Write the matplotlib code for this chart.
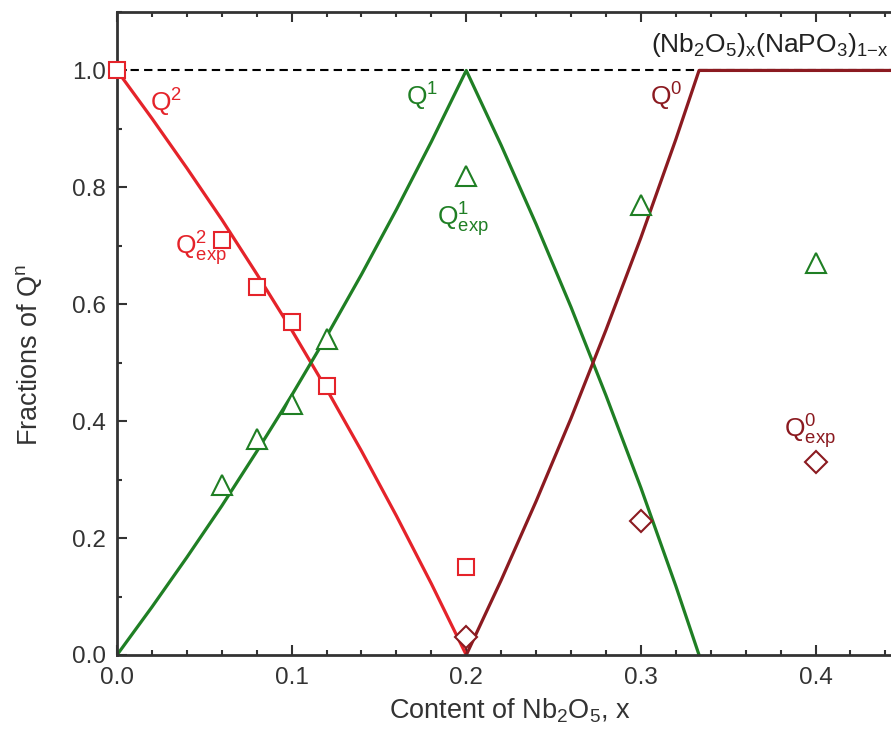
import matplotlib.pyplot as plt
from matplotlib.ticker import MultipleLocator

plt.rcParams['font.family'] = ['Liberation Sans', 'DejaVu Sans']
plt.rcParams['mathtext.fontset'] = 'custom'
plt.rcParams['mathtext.rm'] = 'Liberation Sans'
plt.rcParams['mathtext.it'] = 'Liberation Sans'

# model curves
q2_x = [0.0, 0.02, 0.04, 0.06, 0.08, 0.10, 0.12, 0.14, 0.16, 0.18, 0.20]
q2_y = [1.0, 0.918, 0.833, 0.745, 0.652, 0.556, 0.455, 0.349, 0.238, 0.122, 0.0]
q1_x = [0.0, 0.02, 0.04, 0.06, 0.08, 0.10, 0.12, 0.14, 0.16, 0.18, 0.20,
        0.22, 0.24, 0.26, 0.28, 0.30, 0.32, 0.3333]
q1_y = [0.0, 0.082, 0.167, 0.255, 0.348, 0.444, 0.545, 0.651, 0.762, 0.878, 1.0,
        0.872, 0.737, 0.595, 0.444, 0.286, 0.118, 0.0]
q0_x = [0.20, 0.22, 0.24, 0.26, 0.28, 0.30, 0.32, 0.3333, 0.45]
q0_y = [0.0, 0.128, 0.263, 0.405, 0.556, 0.714, 0.882, 1.0, 1.0]
ref_x = [0.0, 0.45]
ref_y = [1.0, 1.0]

# experimental fractions
q2_exp_x = [0.0, 0.06, 0.08, 0.10, 0.12, 0.20]
q2_exp_y = [1.0, 0.71, 0.63, 0.57, 0.46, 0.15]
q1_exp_x = [0.06, 0.08, 0.10, 0.12, 0.20, 0.30, 0.40]
q1_exp_y = [0.29, 0.37, 0.43, 0.54, 0.82, 0.77, 0.67]
q0_exp_x = [0.20, 0.30, 0.40]
q0_exp_y = [0.03, 0.23, 0.33]

red = '#e5232a'
green = '#1f7f24'
dred = '#8b1a20'
axcol = '#333333'

fig = plt.figure(figsize=(8.91, 7.31), dpi=100)
ax = fig.add_axes([0.1313, 0.104, 0.882, 0.8796])

ax.plot(ref_x, ref_y, color='black', lw=1.5, dashes=(4, 2.5), zorder=1)
ax.plot(q2_x, q2_y, color=red, lw=2.3, zorder=2)
ax.plot(q1_x, q1_y, color=green, lw=2.3, zorder=2)
ax.plot(q0_x, q0_y, color=dred, lw=2.3, zorder=2)

ax.plot(q2_exp_x, q2_exp_y, 's', ms=11, mfc='white', mec=red, mew=1.5,
        ls='none', zorder=3, clip_on=False)
ax.plot(q1_exp_x, q1_exp_y, '^', ms=14, mfc='white', mec=green, mew=1.5,
        ls='none', zorder=3)
ax.plot(q0_exp_x, q0_exp_y, 'D', ms=11, mfc='white', mec=dred, mew=1.5,
        ls='none', zorder=3)

fs = 19
ax.text(0.019, 0.945, r'Q$^2$', color=red, fontsize=fs, ha='left', va='center')
ax.text(0.033, 0.695, r'Q$^2_{\rm exp}$', color=red, fontsize=fs, ha='left', va='center')
ax.text(0.184, 0.955, r'Q$^1$', color=green, fontsize=fs, ha='right', va='center')
ax.text(0.183, 0.745, r'Q$^1_{\rm exp}$', color=green, fontsize=fs, ha='left', va='center')
ax.text(0.324, 0.955, r'Q$^0$', color=dred, fontsize=fs, ha='right', va='center')
ax.text(0.382, 0.382, r'Q$^0_{\rm exp}$', color=dred, fontsize=fs, ha='left', va='center')
ax.text(0.3057, 1.043, r'(Nb$_2$O$_5$)$_x$(NaPO$_3$)$_{1\mathrm{-}x}$', color='#222222',
        fontsize=19, ha='left', va='center')

ax.set_xlim(0, 0.45)
ax.set_ylim(0, 1.1)
ax.xaxis.set_major_locator(MultipleLocator(0.1))
ax.xaxis.set_minor_locator(MultipleLocator(0.02))
ax.set_yticks([0.0, 0.2, 0.4, 0.6, 0.8, 1.0])
ax.yaxis.set_minor_locator(MultipleLocator(0.1))
ax.xaxis.set_major_formatter(lambda v, p: f'{v:.1f}')
ax.yaxis.set_major_formatter(lambda v, p: f'{v:.1f}')

ax.tick_params(which='both', direction='in', top=True, right=True,
               labelsize=17.5, colors=axcol, width=1.5)
ax.tick_params(which='major', length=7)
ax.tick_params(which='minor', length=3.5)
ax.tick_params(axis='x', which='major', pad=9)
ax.tick_params(axis='y', which='major', pad=8)
for s in ax.spines.values():
    s.set_linewidth(2)
    s.set_color(axcol)

ax.set_xlabel(r'Content of Nb$_2$O$_5$, x', fontsize=19.5, color=axcol)
ax.set_ylabel(r'Fractions of Q$^n$', fontsize=19.5, color=axcol)
ax.xaxis.set_label_coords(0.5, -0.065)
ax.yaxis.set_label_coords(-0.093, 0.467)

fig.savefig('out.png', dpi=100)
